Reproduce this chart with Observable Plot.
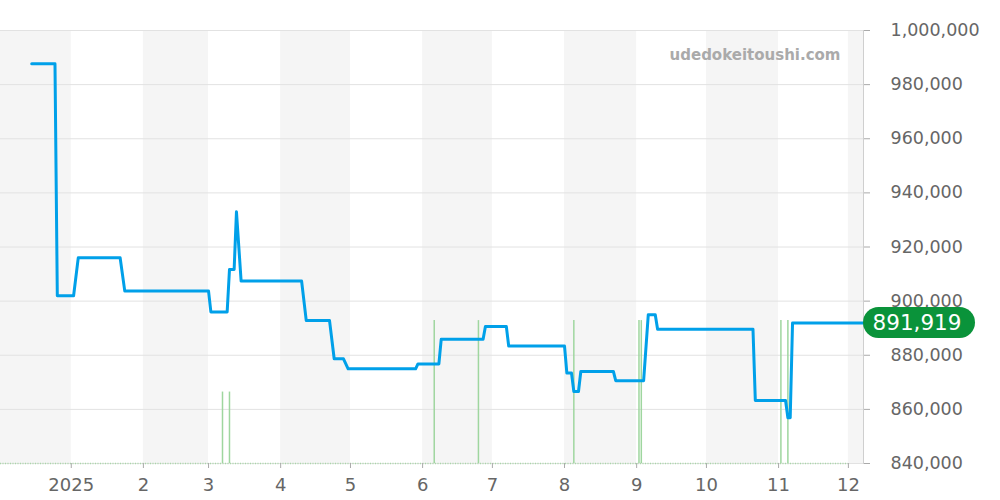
<!DOCTYPE html>
<html><head><meta charset="utf-8">
<script src="https://cdn.jsdelivr.net/npm/d3@7"></script>
<script src="https://cdn.jsdelivr.net/npm/@observablehq/plot@0.6"></script>
<style>
body{margin:0;background:#fff;font-family:"DejaVu Sans",sans-serif;}
#chart{width:1000px;height:500px;}
</style></head><body><div id="chart"></div>
<script>
// ---- data ----
const priceDates = ["2024-12-15","2024-12-25","2024-12-26","2025-01-02","2025-01-04","2025-01-22","2025-01-24",
  "2025-03-01","2025-03-02","2025-03-09","2025-03-10","2025-03-12","2025-03-13","2025-03-15",
  "2025-04-10","2025-04-12","2025-04-22","2025-04-24","2025-04-28","2025-04-30",
  "2025-05-29","2025-05-30","2025-06-08","2025-06-09","2025-06-27","2025-06-28",
  "2025-07-07","2025-07-08","2025-08-01","2025-08-02","2025-08-04","2025-08-05","2025-08-07","2025-08-08",
  "2025-08-22","2025-08-23","2025-09-04","2025-09-06","2025-09-09","2025-09-10",
  "2025-10-21","2025-10-22","2025-11-04","2025-11-05","2025-11-06","2025-11-07","2025-12-07T12:00"];
const priceValues = [987700,987700,902000,902000,916000,916000,903700,
  903700,896000,896000,911700,911700,933000,907400,
  907400,892800,892800,878700,878700,875000,
  875000,876800,876800,885900,885900,890600,
  890600,883400,883400,873400,873400,866600,866600,874000,
  874000,870600,870600,895000,895000,889600,
  889600,863300,863300,856900,856900,891919,891919];
const volumeDates = ["2025-03-07","2025-03-10","2025-06-06","2025-06-25","2025-08-05","2025-09-02","2025-09-03","2025-11-02","2025-11-05"];
const volumeCounts = [1,1,2,2,2,2,2,2,2];
const shadedMonthStarts = ["2024-12-01","2025-02-01","2025-04-01","2025-06-01","2025-08-01","2025-10-01","2025-12-01"];
const shadedMonthEnds   = ["2025-01-01","2025-03-01","2025-05-01","2025-07-01","2025-09-01","2025-11-01","2026-01-01"];
const yTicks = [840000,860000,880000,900000,920000,940000,960000,980000,1000000];
const xTickDates = ["2025-01-01","2025-02-01","2025-03-01","2025-04-01","2025-05-01","2025-06-01","2025-07-01","2025-08-01","2025-09-01","2025-10-01","2025-11-01","2025-12-01"];
const xTickLabels = ["2025","2","3","4","5","6","7","8","9","10","11","12"];
const xDomain = ["2024-12-01T14:00","2025-12-07T12:00"];
const volumeBaselineEnd = "2025-12-01";
const lastPrice = 891919;
const watermark = "udedokeitoushi.com";

// ---- build ----
const D = s => new Date(s.length === 10 ? s + "T00:00Z" : s + "Z");
const price = priceDates.map((d, i) => ({date: D(d), value: priceValues[i]}));
const volume = volumeDates.map((d, i) => ({date: D(d), count: volumeCounts[i]}));
const bands = shadedMonthStarts.map((d, i) => ({x1: D(d), x2: D(shadedMonthEnds[i])}));
const xTicks = xTickDates.map(D);
const labelMap = new Map(xTicks.map((d, i) => [+d, xTickLabels[i]]));
const yMin = yTicks[0];
const volUnit = 26400;

const plot = Plot.plot({
  width: 1000, height: 500,
  marginLeft: 0, marginRight: 137, marginTop: 30, marginBottom: 37,
  x: {type: "utc", domain: xDomain.map(D), label: null},
  y: {domain: [yMin, yTicks[yTicks.length - 1]], label: null},
  style: {fontFamily: "DejaVu Sans, sans-serif", background: "#fff", overflow: "visible"},
  marks: [
    Plot.rect(bands, {x1: "x1", x2: "x2", fill: "#f5f5f5", clip: true}),
    Plot.ruleY(yTicks, {stroke: "#e2e2e2", strokeWidth: 1}),
    Plot.ruleY([yMin], {x1: D(xDomain[0]), x2: D(volumeBaselineEnd), stroke: "#a8d8a8", strokeWidth: 1.5, strokeDasharray: "1 1.5"}),
    Plot.ruleX(volume, {x: "date", y1: yMin, y2: d => yMin + d.count * volUnit, stroke: "#9fd69f", strokeWidth: 1.5}),
    Plot.frame({anchor: "right", stroke: "#cfcfcf"}),
    Plot.axisY({anchor: "right", ticks: yTicks, tickFormat: d3.format(","), tickSize: 6, tickPadding: 21,
      fontSize: 17.5, color: "#666", stroke: "#aaa", label: null}),
    Plot.axisX({ticks: xTicks, tickFormat: d => labelMap.get(+d), tickSize: 5, tickPadding: 10,
      fontSize: 18, color: "#666", stroke: "#aaa", label: null}),
    Plot.line(price, {x: "date", y: "value", stroke: "#00a0e9", strokeWidth: 3, strokeLinejoin: "round", strokeLinecap: "round"}),
    Plot.text([watermark], {text: d => d, frameAnchor: "top-right", dx: -23, dy: 29, lineAnchor: "bottom",
      fill: "#aaa", fontWeight: "bold", fontSize: 15})
  ]
});

// price badge on the right axis, positioned with the plot's own scales
const ys = plot.scale("y").apply(lastPrice);
const xr = plot.scale("x").range[1];
const svg = d3.select(plot);
const g = svg.append("g");
g.append("rect").attr("x", xr).attr("y", ys - 15.5).attr("width", 112).attr("height", 31)
  .attr("rx", 15.5).attr("fill", "#0a933a");
g.append("text").attr("x", xr + 54).attr("y", ys).attr("dy", "0.36em").attr("text-anchor", "middle")
  .attr("fill", "#fff").attr("font-size", 21.5).attr("font-family", "DejaVu Sans, sans-serif")
  .text(d3.format(",")(lastPrice));

document.getElementById("chart").appendChild(plot);
</script></body></html>
